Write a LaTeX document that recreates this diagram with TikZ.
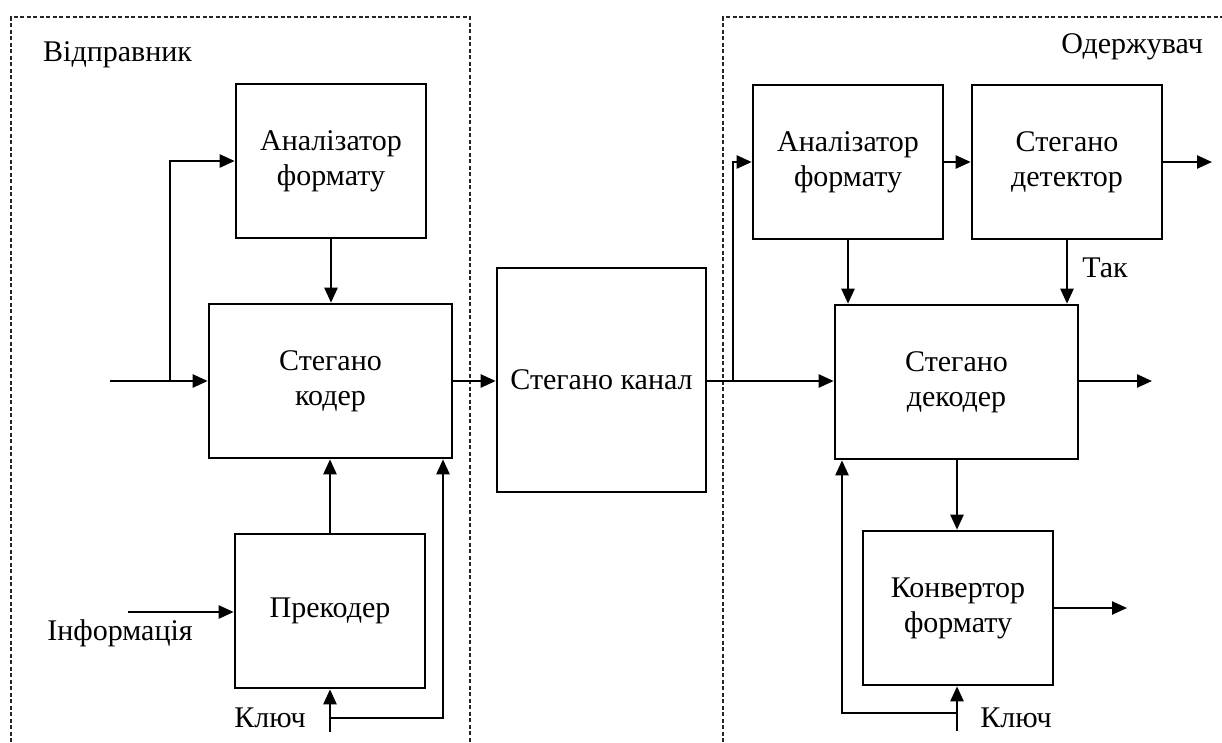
\documentclass[tikz,border=0pt]{standalone}
\usepackage{fontspec}
\setmainfont{Liberation Serif}
\usetikzlibrary{arrows.meta,calc}
\tikzset{
  blk/.style={draw, line width=2.6pt, minimum width=190pt, minimum height=154pt, align=center, inner sep=0pt, font=\fontsize{30}{35}\selectfont},
  wide/.style={blk, minimum width=243pt},
  arr/.style={line width=2.4pt, -{Triangle[length=15pt,width=13pt]}},
  frame/.style={line width=1.1pt, black!85, dash pattern=on 4pt off 2.5pt},
  lbl/.style={font=\fontsize{30}{35}\selectfont, inner sep=0pt}
}
\begin{document}
\begin{tikzpicture}[x=1pt,y=-1pt]
\useasboundingbox (0,0) rectangle (1222,742);
% frames
\draw[frame] (11,742) -- (11,17) -- (470,17) -- (470,742);
\draw[frame] (723,742) -- (723,17) -- (1222,17);
\node[lbl, anchor=west] (snd) at (43,55) {Відправник};
\node[lbl, anchor=east] (rcv) at (1203,47) {Одержувач};
% sender blocks
\node[blk] (anl) at (331,161) {Аналізатор\\формату};
\node[wide] (coder) at (330.5,381) {Стегано\\кодер};
\node[blk] (pre) at (330,611) {Прекодер};
% channel
\node[blk, minimum width=209pt, minimum height=224pt] (chan) at (601.5,380) {Стегано канал};
% receiver blocks
\node[blk] (anr) at (848,162) {Аналізатор\\формату};
\node[blk] (det) at (1067,162) {Стегано\\детектор};
\node[wide] (dec) at (956.5,382) {Стегано\\декодер};
\node[blk] (conv) at (958,608) {Конвертор\\формату};
% labels
\node[lbl] (info) at (120,633) {Інформація};
\node[lbl] (keyL) at (270,718) {Ключ};
\node[lbl] (keyR) at (1016,718) {Ключ};
\node[lbl] (yes) at (1105,268) {Так};
% coordinates
\coordinate (in) at (110,381);
\coordinate (br1) at (170,381);
\coordinate (infoS) at (128,612);
\coordinate (kL) at (330,732);
\coordinate (kLb) at (330,718);
\coordinate (kLu) at (443,0);
\coordinate (br2) at (733,381);
\coordinate (outD) at (1212,162);
\coordinate (outDec) at (1152,381);
\coordinate (outConv) at (1127,608);
\coordinate (kR) at (957,731);
\coordinate (kRb) at (957,713);
\coordinate (kRu) at (842,0);
% sender connectors
\draw[arr] (in) -- (in -| coder.west);
\draw[arr] (br1) |- (anl.west);
\draw[arr] (anl.south) -- (anl.south |- coder.north);
\draw[arr] (coder.east) -- (coder.east -| chan.west);
\draw[arr] (pre.north) -- (pre.north |- coder.south);
\draw[arr] (infoS) -- (infoS -| pre.west);
\draw[arr] (kL) -- (kL |- pre.south);
\draw[arr] (kLb) -| (kLu |- coder.south);
% receiver connectors
\draw[arr] (chan.east |- br2) -- (br2 -| dec.west);
\draw[arr] (br2) |- (anr.west);
\draw[arr] (anr.east) -- (det.west);
\draw[arr] (det.east) -- (det.east -| outD);
\draw[arr] (anr.south) -- (anr.south |- dec.north);
\draw[arr] (det.south) -- (det.south |- dec.north);
\draw[arr] (dec.east |- outDec) -- (outDec);
\draw[arr] (dec.south -| kR) -- (kR |- conv.north);
\draw[arr] (conv.east) -- (conv.east -| outConv);
\draw[arr] (kR) -- (kR |- conv.south);
\draw[arr] (kRb) -| (kRu |- dec.south);
\end{tikzpicture}
\end{document}
